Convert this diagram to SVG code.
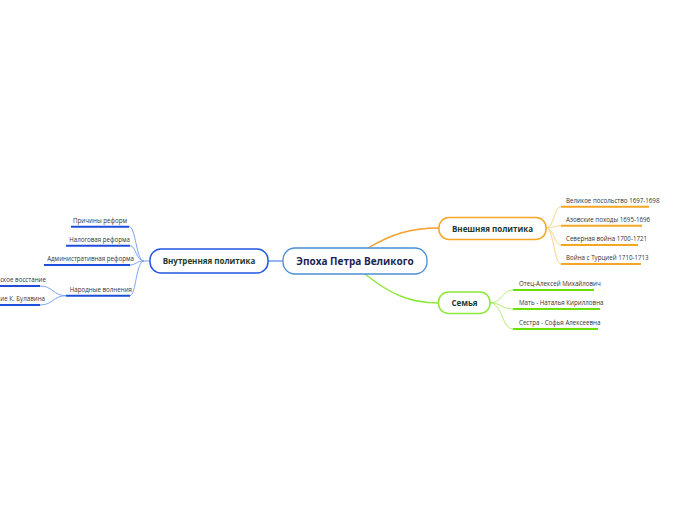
<svg xmlns="http://www.w3.org/2000/svg" width="696" height="520" viewBox="0 0 696 520">
<style>
.leaf{font-family:"Open Sans","DejaVu Sans",sans-serif;font-size:6.2px;fill:#333}
.sub{font-family:"Open Sans","DejaVu Sans",sans-serif;font-size:8px;font-weight:bold;fill:#1e3a2c;text-anchor:middle}
.main{font-family:"Open Sans","DejaVu Sans",sans-serif;font-size:10px;font-weight:bold;fill:#1a2450;text-anchor:middle}
.ub{stroke:#1f4fd8;stroke-width:2;fill:none}
.uo{stroke:#f5a623;stroke-width:2;fill:none}
.ug{stroke:#6be000;stroke-width:2;fill:none}
.cb{stroke:#7aa4f2;stroke-width:1;fill:none}
.co{stroke:#fcd28a;stroke-width:1;fill:none}
.cg{stroke:#b4f07a;stroke-width:1;fill:none}
</style>
<rect width="696" height="520" fill="#fff"/>
<g id="connectors">
<path d="M268,261 L283,261" stroke="#5b8ff0" stroke-width="1.3" fill="none"/>
<path d="M368,248 C392,234 410,228 439,228" stroke="#f5a02a" stroke-width="1.4" fill="none"/>
<path d="M365,274 C390,294 410,303 438,303" stroke="#8ee83a" stroke-width="1.4" fill="none"/>
<path class="cb" d="M150,261 L144,261 C136,261 136,226.7 129,226.7"/>
<path class="cb" d="M144,261 C136,261 136,245.7 130,245.7"/>
<path class="cb" d="M144,261 C136,261 136,265 130,265"/>
<path class="cb" d="M144,261 C136,261 136,295.7 130,295.7"/>
<path class="cb" d="M66,295.7 C53,295.7 53,286 40,286"/>
<path class="cb" d="M66,295.7 C53,295.7 53,305 40,305"/>
<path class="co" d="M546,228 C554,228 554,206.7 561,206.7"/>
<path class="co" d="M546,228 C554,228 554,225.7 561,225.7"/>
<path class="co" d="M546,228 C554,228 554,245 561,245"/>
<path class="co" d="M546,228 C554,228 554,264 561,264"/>
<path class="cg" d="M490,303 C502,303 502,290 513,290"/>
<path class="cg" d="M490,303 C502,303 502,309 513,309"/>
<path class="cg" d="M490,303 C502,303 502,329 513,329"/>
</g>
<g id="central">
<rect x="283" y="248" width="144" height="26" rx="12" fill="#fff" stroke="#4a8fd8" stroke-width="1.3"/>
<text class="main" x="355" y="264.5">Эпоха Петра Великого</text>
</g>
<g id="inner">
<rect x="150" y="249" width="118" height="24" rx="11" fill="#fff" stroke="#2456e0" stroke-width="1.5"/>
<text class="sub" x="209" y="264">Внутренняя политика</text>
</g>
<g id="outer">
<rect x="439" y="217.5" width="107" height="22" rx="10" fill="#fff" stroke="#f5a623" stroke-width="1.5"/>
<text class="sub" x="492.5" y="231.5">Внешняя политика</text>
</g>
<g id="family">
<rect x="438.5" y="292" width="51.5" height="21.5" rx="10" fill="#fff" stroke="#8ee83a" stroke-width="1.5"/>
<text class="sub" x="464.5" y="306">Семья</text>
</g>
<g id="l1"><path class="ub" d="M71,226.7 H129"/><text class="leaf" x="127" y="223" text-anchor="end">Причины реформ</text></g>
<g id="l2"><path class="ub" d="M66,245.7 H130"/><text class="leaf" x="130" y="242" text-anchor="end">Налоговая реформа</text></g>
<g id="l3"><path class="ub" d="M44,265 H130"/><text class="leaf" x="134" y="261.3" text-anchor="end">Административная реформа</text></g>
<g id="l4"><path class="ub" d="M66,295.7 H130"/><text class="leaf" x="132" y="292" text-anchor="end">Народные волнения</text></g>
<g id="l4a"><path class="ub" d="M0,286 H40"/><text class="leaf" x="46" y="282.3" text-anchor="end">ское восстание</text></g>
<g id="l4b"><path class="ub" d="M0,305 H40"/><text class="leaf" x="45" y="301.3" text-anchor="end">ие К. Булавина</text></g>
<g id="r1"><path class="uo" d="M561,206.7 H649"/><text class="leaf" x="566" y="202.5">Великое посольство 1697-1698</text></g>
<g id="r2"><path class="uo" d="M561,225.7 H642"/><text class="leaf" x="566" y="221.5">Азовские походы 1695-1696</text></g>
<g id="r3"><path class="uo" d="M561,245 H638"/><text class="leaf" x="566" y="240.8">Северная война 1700-1721</text></g>
<g id="r4"><path class="uo" d="M561,264 H641"/><text class="leaf" x="566" y="259.8">Война с Турцией 1710-1713</text></g>
<g id="f1"><path class="ug" d="M513,290 H594"/><text class="leaf" x="519" y="286">Отец-Алексей Михайлович</text></g>
<g id="f2"><path class="ug" d="M513,309 H600"/><text class="leaf" x="519" y="305">Мать - Наталья Кирилловна</text></g>
<g id="f3"><path class="ug" d="M513,329 H598"/><text class="leaf" x="519" y="325">Сестра - Софья Алексеевна</text></g>
</svg>
